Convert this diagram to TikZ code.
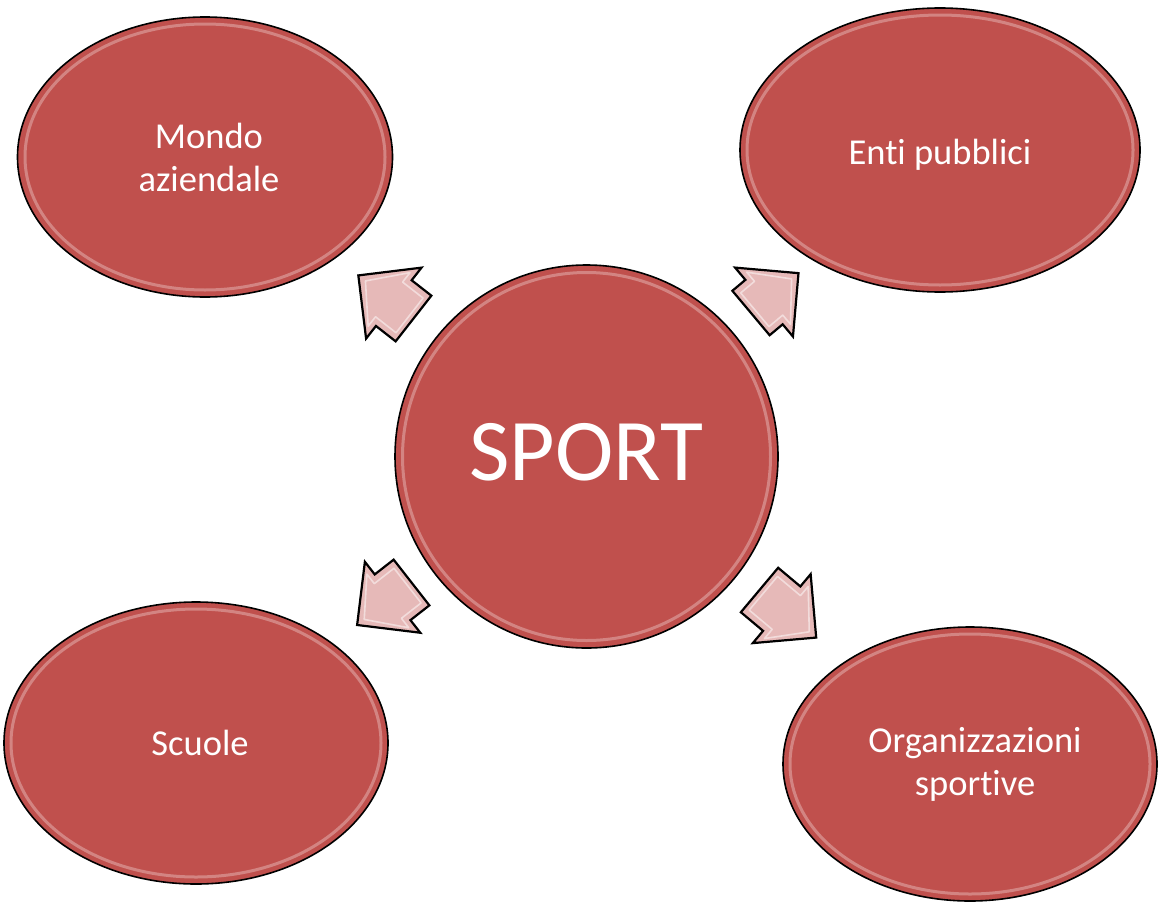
\documentclass[tikz,border=0pt]{standalone}
\usepackage{fontspec}
\setmainfont{Carlito}[RawFeature={-liga;-clig;-dlig;-calt}]
\usetikzlibrary{shapes.geometric}
\definecolor{bubblered}{HTML}{C0504D}
\definecolor{arrowpink}{HTML}{E6B9B8}
\begin{document}
\begin{tikzpicture}[x=1pt,y=-1pt,
  bubble/.style={ellipse, fill=bubblered, draw=black, line width=1.6pt,
    inner sep=0pt, text=white, align=center,
    font=\fontsize{36.5}{43}\selectfont},
  gloss/.style={white, opacity=.3, line width=3pt},
  arrowblk/.style={fill=arrowpink, draw=black, line width=2.2pt, line join=miter},
  arrowgloss/.style={draw=white, opacity=.5, line width=1.6pt, line join=round}]
\useasboundingbox (0,0) rectangle (1158,902);

% outer bubbles
\node[bubble, minimum width=375pt, minimum height=280pt] (mondo) at (205,157) {\hspace*{8pt}Mondo\\\hspace*{8pt}aziendale};
\node[bubble, minimum width=400pt, minimum height=284pt] (enti) at (940,150) {\raisebox{-5pt}[\height][\depth]{Enti pubblici}};
\node[bubble, minimum width=384pt, minimum height=282pt] (scuole) at (196,743) {\hspace*{8pt}Scuole};
\node[bubble, minimum width=374pt, minimum height=274pt] (org) at (970,764) {\hspace*{10pt}Organizzazioni\\\hspace*{10pt}sportive};

% central circle
\node[bubble, circle, minimum size=383pt, font=\fontsize{88}{90}\selectfont] (sport) at (586.5,456.5) {\raisebox{9pt}{SPORT}};

% glossy rims
\draw[gloss] (mondo.center) ellipse [x radius=180, y radius=133];
\draw[gloss] (enti.center) ellipse [x radius=193, y radius=135];
\draw[gloss] (scuole.center) ellipse [x radius=185, y radius=134];
\draw[gloss] (org.center) ellipse [x radius=180, y radius=130];
\draw[gloss] (sport.center) circle [radius=184];

% block arrows pointing outwards: tail point / direction / length
\foreach \nm/\tx/\ty/\ang/\len in {atl/413.5/318.5/142/70, atr/751/313/40/62,
                                   abl/411.5/582.5/218/69, abr/759.5/590/320/74}{
  \begin{scope}[shift={(\tx,\ty)}, rotate=\ang]
    \coordinate (\nm-tail) at (0,0);
    \coordinate (\nm-tip) at (\len,0);
    \draw[arrowblk] (\nm-tail) ++(0,-29) -- ({\len-45},-29) -- ({\len-45},-45)
      -- (\nm-tip) -- ({\len-45},45) -- ({\len-45},29) -- (0,29) -- cycle;
    \draw[arrowgloss] (5,-22) -- ({\len-39},-22) -- ({\len-39},-34)
      -- ({\len-9},0) -- ({\len-39},34) -- ({\len-39},22) -- (5,22) -- cycle;
  \end{scope}
}
\end{tikzpicture}
\end{document}
